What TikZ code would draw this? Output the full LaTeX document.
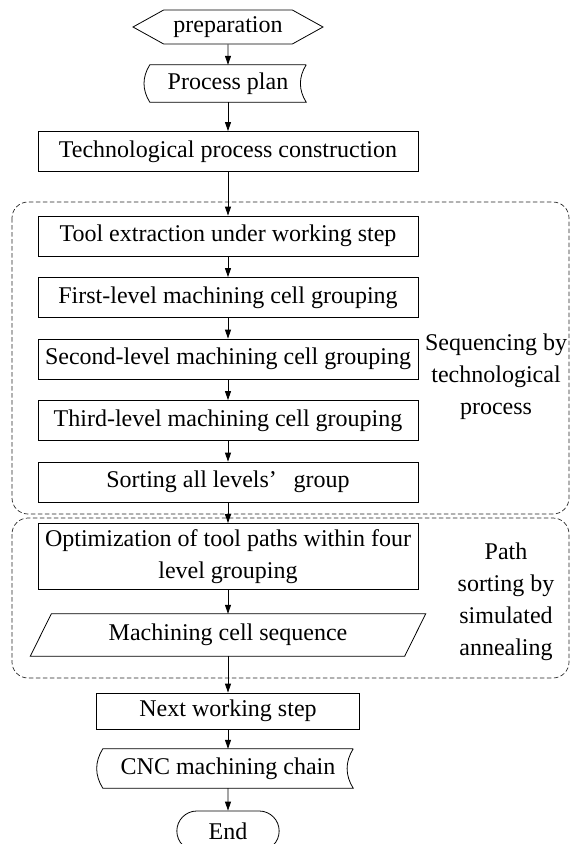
\documentclass[tikz,border=0pt]{standalone}
\usepackage{fontspec}
\setmainfont{Liberation Serif}
\usetikzlibrary{shapes.symbols,shapes.misc,arrows.meta}

\begin{document}
\begin{tikzpicture}[x=1pt,y=-1pt,font=\fontsize{24}{32}\selectfont]
    \tikzstyle{B}=[rectangle,draw,line width=0.8pt,minimum width=380pt,minimum height=40pt,inner sep=6pt]
    \tikzstyle{S}=[rectangle,minimum height=38pt,inner sep=6pt]
    \tikzstyle{A}=[-{Triangle[length=9pt,width=6pt]},line width=0.8pt]
    \tikzstyle{G}=[dash pattern=on 4.5pt off 2.5pt,line width=0.7pt,rounded corners=16pt,draw=black!85]

   \useasboundingbox (0,0) rectangle (570,844);

   % groups
   \draw [G] (12,202) rectangle (569,514);
   \draw [G] (12,518) rectangle (569,678);

   \node [signal,signal to=west and east,signal pointer angle=58,draw,line width=0.8pt,minimum width=190pt,minimum height=34pt,inner sep=2pt] (prep) at (228,27) {preparation};
   \node [S,minimum width=156pt,minimum height=37pt] (plan) at (228,83.5) {Process plan};
   \node [B] (tech) at (228,151.5) {Technological process construction};

   \node [B] (tool) at (228,236) {Tool extraction under working step};
   \node [B] (lev1) at (228,297.5) {First-level machining cell grouping};
   \node [B] (lev2) at (228,359) {Second-level machining cell grouping};
   \node [B] (lev3) at (228,420.5) {Third-level machining cell grouping};
   \node [B] (sort) at (228,482) {Sorting all levels’\hspace{0.7em}group};
   \node [align=center] (seq) at (496,377) {Sequencing by\\technological\\process};

   \node [B,minimum height=65pt,align=center] (opt) at (228,556.5) {Optimization of tool paths within four\\level grouping};
   \node [S,minimum width=374pt,minimum height=42pt] (cell) at (228,635) {Machining cell sequence};
   \node [align=center] (sa) at (506,601.5) {Path\\sorting by\\simulated\\annealing};

   \node [B,minimum width=263pt,minimum height=36pt] (next) at (228,711) {Next working step};
   \node [S,minimum width=250pt,minimum height=39pt] (cnc) at (228,768.5) {CNC machining chain};
   \node [rounded rectangle,draw,line width=0.8pt,minimum width=109pt,minimum height=40pt] (end) at (228,831) {End};

   % odd outlines
   \draw [line width=0.8pt] (plan.north east) -- (plan.north west) to [bend right=32] (plan.south west) -- (plan.south east) to [bend left=32] (plan.north east);
   \draw [line width=0.8pt] (cnc.north east) -- (cnc.north west) to [bend right=32] (cnc.south west) -- (cnc.south east) to [bend left=32] (cnc.north east);
   \draw [line width=0.8pt] ([xshift=-10.5pt]cell.south west) -- ([xshift=10.5pt]cell.north west) -- ([xshift=10.5pt]cell.north east) -- ([xshift=-10.5pt]cell.south east) -- cycle;

   \draw [A] (prep) -- (plan);
   \draw [A] (plan) -- (tech);
   \draw [A] (tech) -- (tool);
   \draw [A] (tool) -- (lev1);
   \draw [A] (lev1) -- (lev2);
   \draw [A] (lev2) -- (lev3);
   \draw [A] (lev3) -- (sort);
   \draw [A] (sort) -- (opt);
   \draw [A] (opt) -- (cell);
   \draw [A] (cell) -- (next);
   \draw [A] (next) -- (cnc);
   \draw [A] (cnc) -- (end);
\end{tikzpicture}
\end{document}
